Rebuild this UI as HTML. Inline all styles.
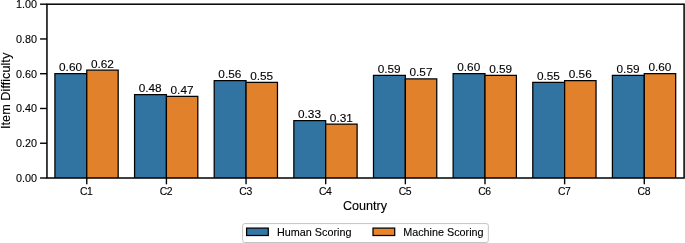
<!DOCTYPE html>
<html><head><meta charset="utf-8"><title>Item Difficulty by Country</title>
<style>html,body{margin:0;padding:0;background:#fff;overflow:hidden}svg{display:block}</style></head>
<body>
<svg width="685" height="243" viewBox="0 0 685 243" font-family="'Liberation Sans', Arial, sans-serif">
<rect width="685" height="243" fill="#fff"/>
<g stroke="#000" stroke-width="1.25"><path d="M54.91 178.00V73.72H86.77V178.00" fill="#3274a1"/>
<path d="M86.77 178.00V70.24H118.18V178.00" fill="#e1812c"/>
<path d="M134.56 178.00V94.58H166.42V178.00" fill="#3274a1"/>
<path d="M166.42 178.00V96.31H197.82V178.00" fill="#e1812c"/>
<path d="M214.20 178.00V80.67H246.06V178.00" fill="#3274a1"/>
<path d="M246.06 178.00V82.41H277.47V178.00" fill="#e1812c"/>
<path d="M293.85 178.00V120.65H325.70V178.00" fill="#3274a1"/>
<path d="M325.70 178.00V124.12H357.11V178.00" fill="#e1812c"/>
<path d="M373.49 178.00V75.46H405.35V178.00" fill="#3274a1"/>
<path d="M405.35 178.00V78.93H436.75V178.00" fill="#e1812c"/>
<path d="M453.13 178.00V73.72H484.99V178.00" fill="#3274a1"/>
<path d="M484.99 178.00V75.46H516.40V178.00" fill="#e1812c"/>
<path d="M532.78 178.00V82.41H564.63V178.00" fill="#3274a1"/>
<path d="M564.63 178.00V80.67H596.04V178.00" fill="#e1812c"/>
<path d="M612.42 178.00V75.46H644.28V178.00" fill="#3274a1"/>
<path d="M644.28 178.00V73.72H675.69V178.00" fill="#e1812c"/></g>
<g fill="#000" stroke="#000" stroke-width="0.12" font-size="11.8" text-anchor="middle"><text x="70.54" y="71.12">0.60</text>
<text x="102.40" y="67.64">0.62</text>
<text x="150.19" y="91.98">0.48</text>
<text x="182.04" y="93.71">0.47</text>
<text x="229.83" y="78.07">0.56</text>
<text x="261.69" y="79.81">0.55</text>
<text x="309.47" y="118.05">0.33</text>
<text x="341.33" y="121.52">0.31</text>
<text x="389.12" y="72.86">0.59</text>
<text x="420.98" y="76.33">0.57</text>
<text x="468.76" y="71.12">0.60</text>
<text x="500.62" y="72.86">0.59</text>
<text x="548.41" y="79.81">0.55</text>
<text x="580.26" y="78.07">0.56</text>
<text x="628.05" y="72.86">0.59</text>
<text x="659.91" y="71.12">0.60</text></g>
<g fill="#000" stroke="#000" stroke-width="0.12" font-size="10.4" letter-spacing="-0.45" text-anchor="middle"><text x="86.27" y="195.00">C1</text>
<text x="165.92" y="195.00">C2</text>
<text x="245.56" y="195.00">C3</text>
<text x="325.20" y="195.00">C4</text>
<text x="404.85" y="195.00">C5</text>
<text x="484.49" y="195.00">C6</text>
<text x="564.13" y="195.00">C7</text>
<text x="643.78" y="195.00">C8</text></g>
<g stroke="#000" stroke-width="1.4"><line x1="86.77" x2="86.77" y1="178.00" y2="184.30"/>
<line x1="166.42" x2="166.42" y1="178.00" y2="184.30"/>
<line x1="246.06" x2="246.06" y1="178.00" y2="184.30"/>
<line x1="325.70" x2="325.70" y1="178.00" y2="184.30"/>
<line x1="405.35" x2="405.35" y1="178.00" y2="184.30"/>
<line x1="484.99" x2="484.99" y1="178.00" y2="184.30"/>
<line x1="564.63" x2="564.63" y1="178.00" y2="184.30"/>
<line x1="644.28" x2="644.28" y1="178.00" y2="184.30"/>
<line x1="40.05" x2="46.95" y1="178.00" y2="178.00"/>
<line x1="40.05" x2="46.95" y1="143.24" y2="143.24"/>
<line x1="40.05" x2="46.95" y1="108.48" y2="108.48"/>
<line x1="40.05" x2="46.95" y1="73.72" y2="73.72"/>
<line x1="40.05" x2="46.95" y1="38.96" y2="38.96"/>
<line x1="40.05" x2="46.95" y1="4.20" y2="4.20"/></g>
<g fill="#000" stroke="#000" stroke-width="0.12" font-size="10.8" text-anchor="end"><text x="37.05" y="181.90">0.00</text>
<text x="37.05" y="147.14">0.20</text>
<text x="37.05" y="112.38">0.40</text>
<text x="37.05" y="77.62">0.60</text>
<text x="37.05" y="42.86">0.80</text>
<text x="37.05" y="8.10">1.00</text></g>
<rect x="46.95" y="4.20" width="637.15" height="173.80" fill="none" stroke="#000" stroke-width="1.5"/>
<g fill="#000" stroke="#000" stroke-width="0.12" font-size="12.6" text-anchor="middle">
<text x="365.03" y="209.8">Country</text>
<text transform="translate(10.2,90.85) rotate(-90)" font-size="12.75">Item Difficulty</text>
</g>
<rect x="242.6" y="223.6" width="245.75" height="18.9" rx="2.2" ry="2.2" fill="#fff" stroke="#c4c4c4" stroke-width="1"/>
<g stroke="#000" stroke-width="1.25"><rect x="246.6" y="228.1" width="21.7" height="7.4" fill="#3177a8"/>
<rect x="373.0" y="228.1" width="21.7" height="7.4" fill="#e8842a"/></g>
<g fill="#000" stroke="#000" stroke-width="0.12" font-size="10.8">
<text x="277" y="235.7">Human Scoring</text>
<text x="403.2" y="235.7">Machine Scoring</text></g>
</svg>
</body></html>
